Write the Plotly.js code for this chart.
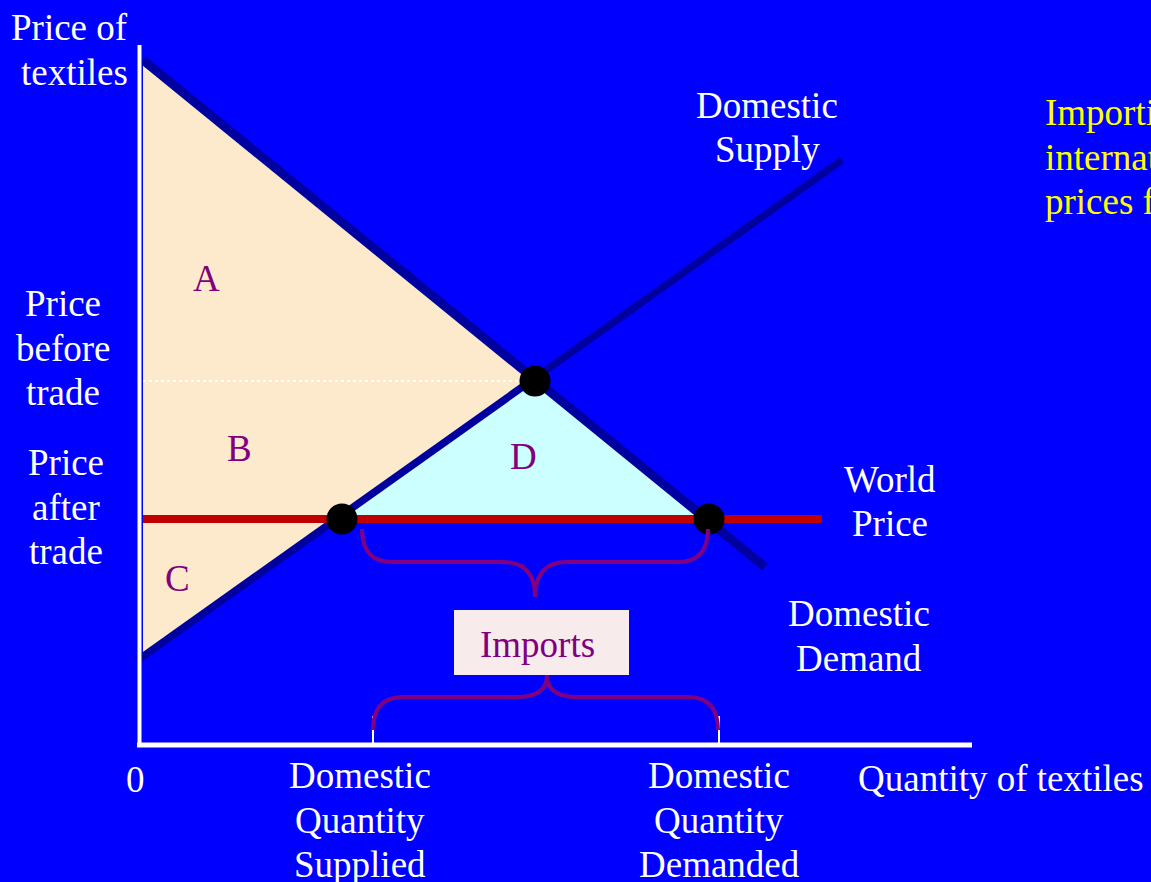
<!DOCTYPE html>
<html>
<head>
<meta charset="utf-8">
<script src="https://cdn.plot.ly/plotly-3.0.1.min.js"></script>
<style>html,body{margin:0;padding:0;background:#0000FF;}#chart{width:1151px;height:882px;}</style>
</head>
<body>
<div id="chart"></div>
<script>
// ---- Data (quantity / price units) ----
const demandQ = [0.3, 62.5];
const demandP = [68.5, 17.8];
const supplyQ = [-0.2, 70.2];
const supplyP = [8.5, 58.5];
const equilibriumQ = 39.5;
const equilibriumP = 36.4;
const worldPrice = 22.6;
const worldQ = [0.3, 68.2];
const qSupplied = 20.2;
const qDemanded = 56.9;
const surplusQ = [0.3, 39.5, 0.3];
const surplusP = [68.5, 36.4, 8.8];
const gainQ = [qSupplied, equilibriumQ, qDemanded];
const gainP = [worldPrice, equilibriumP, worldPrice];
const tickQ = [23.3, 57.9];
const areaLabels = ['A', 'B', 'C', 'D'];
const areaQ = [6.6, 9.9, 3.7, 38.3];
const areaP = [46.7, 29.7, 16.7, 28.9];

const serif = 'Liberation Serif, Times New Roman, serif';
const white = '#FFFFFF';
const purple = '#800080';
const lineBlue = '#0000A0';
const fontSize = 37;
const lineGap = 4.45;

const traces = [
  {x: surplusQ, y: surplusP, mode: 'lines', fill: 'toself', fillcolor: '#FDE9CB', line: {width: 0}, hoverinfo: 'skip'},
  {x: gainQ, y: gainP, mode: 'lines', fill: 'toself', fillcolor: '#CCFFFF', line: {width: 0}, hoverinfo: 'skip'},
  {x: [surplusQ[0], equilibriumQ - 1.5], y: [equilibriumP, equilibriumP], mode: 'lines', line: {color: white, width: 2, dash: 'dot'}, hoverinfo: 'skip'},
  {x: demandQ, y: demandP, mode: 'lines', line: {color: lineBlue, width: 9}, hoverinfo: 'skip'},
  {x: supplyQ, y: supplyP, mode: 'lines', line: {color: lineBlue, width: 7.5}, hoverinfo: 'skip'},
  {x: worldQ, y: [worldPrice, worldPrice], mode: 'lines', line: {color: '#C00000', width: 8}, hoverinfo: 'skip'},
  {x: [qSupplied, equilibriumQ, qDemanded], y: [worldPrice, equilibriumP, worldPrice], mode: 'markers', marker: {color: '#000000', size: 31}, hoverinfo: 'skip'}
];

function bracePath(x0, x1, xt, yEnd, yBar, yTip, r, rt) {
  return 'M' + x0 + ',' + yEnd +
    ' Q' + x0 + ',' + yBar + ' ' + (x0 + r) + ',' + yBar +
    ' L' + (xt - rt) + ',' + yBar +
    ' Q' + xt + ',' + yBar + ' ' + xt + ',' + yTip +
    ' Q' + xt + ',' + yBar + ' ' + (xt + rt) + ',' + yBar +
    ' L' + (x1 - r) + ',' + yBar +
    ' Q' + x1 + ',' + yBar + ' ' + x1 + ',' + yEnd;
}

const shapes = [
  // axes
  {type: 'line', x0: -0.05, x1: -0.05, y0: -0.2, y1: 70, line: {color: white, width: 4}},
  {type: 'line', x0: -0.3, x1: 83.2, y0: 0, y1: 0, line: {color: white, width: 5}},
  // quantity ticks
  {type: 'line', x0: tickQ[0], x1: tickQ[0], y0: 0, y1: 2.9, line: {color: white, width: 2}},
  {type: 'line', x0: tickQ[1], x1: tickQ[1], y0: 0, y1: 2.9, line: {color: white, width: 2}},
  // imports box
  {type: 'rect', x0: 31.4, x1: 48.9, y0: 7.0, y1: 13.5, fillcolor: '#F7EBEB', line: {width: 0}},
  // braces
  {type: 'path', path: bracePath(22.2, 56.8, equilibriumQ, 21.6, 18.3, 14.8, 3.0, 3.2), line: {color: purple, width: 4}},
  {type: 'path', path: bracePath(tickQ[0], tickQ[1] - 0.1, 40.7, 1.5, 4.8, 7.0, 3.0, 3.0), line: {color: purple, width: 4}}
];

function txt(text, x, y, opts) {
  return Object.assign({text: text, x: x, y: y, xref: 'x', yref: 'y', showarrow: false,
    font: {family: serif, size: fontSize, color: white}, xanchor: 'center', yanchor: 'middle', align: 'center'}, opts || {});
}

const annotations = [];
function block(lines, x, yCenter, opts) {
  const n = lines.length;
  for (let i = 0; i < n; i++) {
    const y = yCenter + ((n - 1) / 2 - i) * lineGap;
    annotations.push(txt(lines[i], x, y, opts));
  }
}

block(['Price of', 'textiles'], -1.0, 69.5, {xanchor: 'right'});
block(['Price', 'before', 'trade'], -7.7, 39.7);
block(['Price', 'after', 'trade'], -7.4, 23.8);
block(['0'], -0.5, -3.4);
block(['Domestic', 'Quantity', 'Supplied'], 22.0, -7.5);
block(['Domestic', 'Quantity', 'Demanded'], 57.9, -7.5);
block(['Quantity of textiles'], 71.6, -3.3, {xanchor: 'left'});
block(['Domestic', 'Supply'], 62.7, 61.75);
block(['World', 'Price'], 75.0, 24.35);
block(['Domestic', 'Demand'], 71.9, 10.9);
block(['Importing', 'international', 'prices fall'], 90.3, 58.8, {xanchor: 'left', font: {family: serif, size: fontSize, color: '#FFFF00'}});
block(['Imports'], 39.7, 10.1, {font: {family: serif, size: fontSize, color: purple}});
for (let i = 0; i < areaLabels.length; i++) {
  annotations.push(txt(areaLabels[i], areaQ[i], areaP[i], {font: {family: serif, size: fontSize, color: purple}}));
}

const layout = {
  width: 1151, height: 882,
  margin: {l: 0, r: 0, t: 0, b: 0},
  paper_bgcolor: '#0000FF', plot_bgcolor: '#0000FF',
  showlegend: false,
  xaxis: {range: [-14, 101.1], visible: false, fixedrange: true},
  yaxis: {range: [-13.7, 74.5], visible: false, fixedrange: true},
  shapes: shapes,
  annotations: annotations
};

Plotly.newPlot('chart', traces, layout, {displayModeBar: false, staticPlot: true});
</script>
</body>
</html>
